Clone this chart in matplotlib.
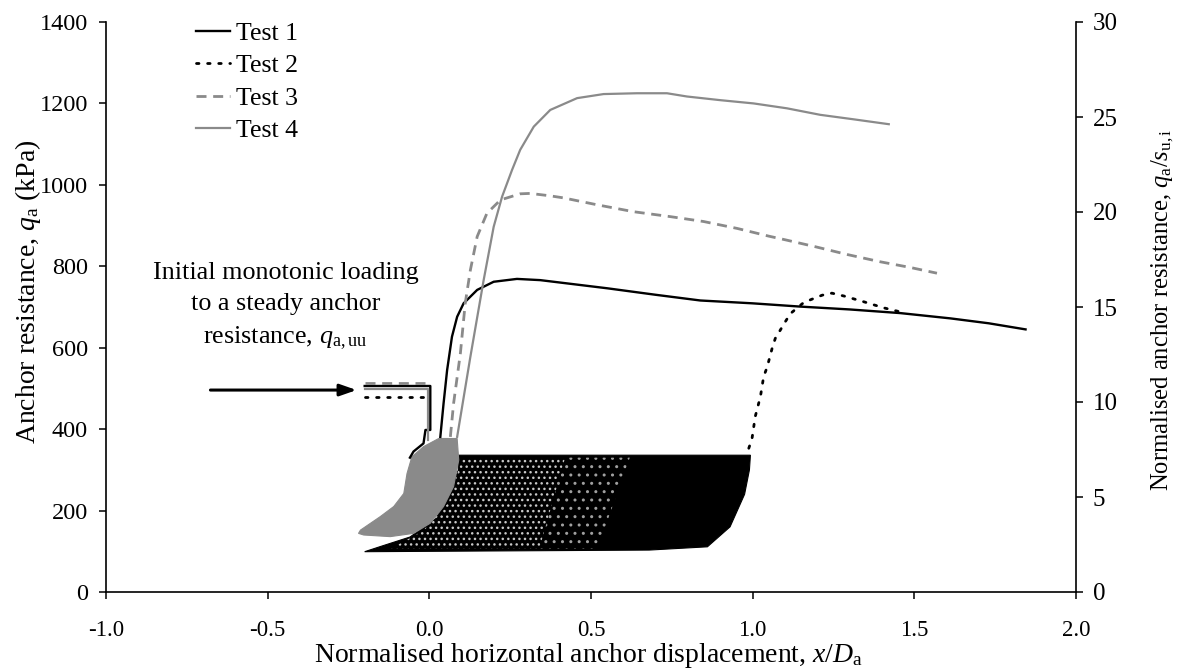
import matplotlib
matplotlib.use('Agg')
import matplotlib.pyplot as plt
from matplotlib.patches import Polygon

plt.rcParams['font.family'] = ['Liberation Serif', 'DejaVu Serif']
plt.rcParams['mathtext.fontset'] = 'custom'
plt.rcParams['mathtext.rm'] = 'Liberation Serif'
plt.rcParams['mathtext.it'] = 'Liberation Serif:italic'
plt.rcParams['mathtext.bf'] = 'Liberation Serif:bold'
plt.rcParams['hatch.linewidth'] = 1.0

# ---------------- data ----------------
x_ticks = [-1.0, -0.5, 0.0, 0.5, 1.0, 1.5, 2.0]
y_ticks = [0, 200, 400, 600, 800, 1000, 1200, 1400]
y2_ticks = [0, 5, 10, 15, 20, 25, 30]

# Test 1 (initial monotonic + post-cyclic monotonic)
t1_init_x = [-0.20, 0.003, 0.003, -0.012, -0.018, -0.049, -0.06]
t1_init_y = [506, 506, 398, 398, 365, 345, 330]
t1_x = [0.034, 0.044, 0.055, 0.070, 0.086, 0.106, 0.148, 0.199, 0.271, 0.343, 0.405,
        0.55, 0.70, 0.838, 1.0, 1.147, 1.30, 1.457, 1.612, 1.73, 1.844]
t1_y = [381, 463, 545, 627, 676, 709, 742, 762, 769, 766, 760,
        746, 730, 716, 709, 701, 694, 685, 672, 660, 645]

# Test 2
t2_init_x = [-0.20, -0.01]
t2_init_y = [478, 478]
t2_x = [0.988, 0.998, 1.008, 1.024, 1.034, 1.045, 1.06, 1.07, 1.086, 1.101, 1.117,
        1.158, 1.189, 1.215, 1.245, 1.282, 1.343, 1.405, 1.467]
t2_y = [353, 377, 431, 480, 529, 553, 598, 623, 644, 664, 684,
        711, 721, 729, 734, 727, 713, 698, 686]

# Test 3
t3_init_x = [-0.20, 0.0]
t3_init_y = [513, 513]
t3_x = [0.065, 0.075, 0.096, 0.111, 0.127, 0.148, 0.178, 0.22, 0.281, 0.312, 0.374,
        0.415, 0.519, 0.632, 0.745, 0.848, 0.952, 1.05, 1.101, 1.194, 1.292, 1.395,
        1.488, 1.57]
t3_y = [381, 463, 586, 709, 791, 873, 930, 963, 978, 979, 973,
        968, 951, 934, 922, 910, 893, 874, 865, 848, 829, 811, 797, 783]

# Test 4
t4_init_x = [-0.20, -0.003, -0.003]
t4_init_y = [498, 498, 373]
t4_x = [0.086, 0.127, 0.168, 0.199, 0.225, 0.256, 0.281, 0.323, 0.374, 0.457, 0.539,
        0.642, 0.735, 0.797, 0.9, 1.003, 1.106, 1.209, 1.312, 1.421]
t4_y = [381, 578, 766, 897, 971, 1037, 1086, 1143, 1184, 1213, 1223,
        1225, 1225, 1217, 1208, 1200, 1188, 1172, 1161, 1149]

# Cyclic loading envelopes
cyc_black_x = [-0.20, 0.68, 0.86, 0.93, 0.975, 0.99, 0.993, 0.086, 0.09, 0.06, 0.02, -0.06, -0.15]
cyc_black_y = [99, 103, 111, 160, 240, 300, 336, 336, 300, 240, 180, 135, 112]
cyc_speckle1_x = [0.10, 0.42, 0.34, -0.12, -0.02, 0.06, 0.09]
cyc_speckle1_y = [330, 330, 106, 106, 150, 220, 300]
cyc_speckle2_x = [0.42, 0.62, 0.52, 0.34]
cyc_speckle2_y = [330, 330, 106, 106]
cyc_gray_x = [0.029, 0.086, 0.091, 0.075, 0.044, 0.003, -0.049, -0.121, -0.203, -0.219,
              -0.213, -0.152, -0.11, -0.079, -0.069, -0.054, -0.018]
cyc_gray_y = [377, 377, 324, 259, 210, 169, 144, 136, 140, 144,
              152, 185, 210, 242, 291, 332, 357]

annot_text = "Initial monotonic loading\nto a steady anchor\nresistance, $q_{\\mathrm{a,uu}}$"
annot_pos = (-0.445, 700)
arrow_start = (-0.677, 496)
arrow_end = (-0.225, 496)

# ---------------- figure ----------------
W, H = 1185, 670
fig = plt.figure(figsize=(W / 100, H / 100), dpi=100)
ax = fig.add_axes([106 / W, 78 / H, 970 / W, 570 / H])
ax2 = ax.twinx()

GRAY = '#8a8a8a'

ax.add_patch(Polygon(list(zip(cyc_black_x, cyc_black_y)), closed=True,
                     facecolor='black', edgecolor='black', lw=0.8, zorder=2))
ax.add_patch(Polygon(list(zip(cyc_speckle1_x, cyc_speckle1_y)), closed=True,
                     facecolor='none', edgecolor='#c8c8c8', hatch='...', lw=0, zorder=2.1))
ax.add_patch(Polygon(list(zip(cyc_speckle2_x, cyc_speckle2_y)), closed=True,
                     facecolor='none', edgecolor='#a0a0a0', hatch='..', lw=0, zorder=2.1))
ax.add_patch(Polygon(list(zip(cyc_gray_x, cyc_gray_y)), closed=True,
                     facecolor=GRAY, edgecolor=GRAY, lw=0.8, zorder=3))

s1 = dict(color='black', lw=1.7, zorder=4)
s2 = dict(color='black', lw=2.0, linestyle=(0, (0.9, 3.1)), dash_capstyle='round', zorder=4)
s3 = dict(color=GRAY, lw=2.0, linestyle=(0, (3.6, 2.4)), zorder=4)
s4 = dict(color=GRAY, lw=1.6, zorder=4)

ax.plot(t1_x, t1_y, label='Test 1', **s1)
ax.plot(t1_init_x, t1_init_y, **s1)
ax.plot(t2_x, t2_y, label='Test 2', **s2)
ax.plot(t2_init_x, t2_init_y, **s2)
ax.plot(t3_x, t3_y, label='Test 3', **s3)
ax.plot(t3_init_x, t3_init_y, **s3)
ax.plot(t4_x, t4_y, label='Test 4', **s4)
ax.plot(t4_init_x, t4_init_y, **s4)

ax.annotate('', xy=arrow_end, xytext=arrow_start,
            arrowprops=dict(arrowstyle='-|>,head_length=1.0,head_width=0.35',
                            color='black', lw=2.2, shrinkA=0, shrinkB=0), zorder=5)
ax.text(annot_pos[0], annot_pos[1], annot_text, ha='center', va='center', fontsize=18.8,
        linespacing=1.5, zorder=5)

ax.set_xlim(-1.0, 2.0)
ax.set_ylim(0, 1400)
ax2.set_ylim(0, 30)
ax.set_xticks(x_ticks)
ax.set_xticklabels([f'{v:.1f}' for v in x_ticks])
ax.set_yticks(y_ticks)
ax2.set_yticks(y2_ticks)

for a in (ax, ax2):
    a.spines['top'].set_visible(False)
    for s in a.spines.values():
        s.set_linewidth(1.2)
ax.spines['right'].set_visible(False)
ax2.spines['left'].set_visible(False)
ax2.spines['bottom'].set_visible(False)

ax.tick_params(axis='x', direction='out', length=5, width=1.1, pad=15, labelsize=16.5)
ax.tick_params(axis='y', direction='out', length=5, width=1.1, pad=8, labelsize=17.5)
ax2.tick_params(axis='y', direction='out', length=5, width=1.1, pad=7, labelsize=18)

fig.text(588 / W, 1 - 655 / H, 'Normalised horizontal anchor displacement, $x/D_{\\mathrm{a}}$',
         fontsize=20, ha='center', va='center')
fig.text(28 / W, 1 - 292 / H, 'Anchor resistance, $q_{\\mathrm{a}}$ (kPa)',
         fontsize=20, ha='center', va='center', rotation=90)
fig.text(1163 / W, 1 - 310 / H, 'Normalised anchor resistance, $q_{\\mathrm{a}}/s_{\\mathrm{u,i}}$',
         fontsize=17.7, ha='center', va='center', rotation=90)

leg = ax.legend(loc='upper left', bbox_to_anchor=(196 / W, 1 - 22 / H),
                bbox_transform=fig.transFigure, frameon=False, borderaxespad=0, borderpad=0,
                fontsize=18.6, handlelength=1.3, handletextpad=0.25, labelspacing=0.36)

fig.savefig('out.png', dpi=100)
